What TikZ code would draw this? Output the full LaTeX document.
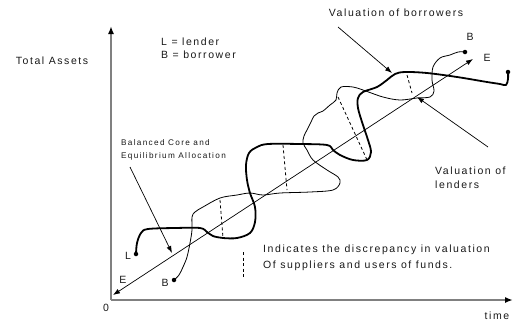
\documentclass[tikz,border=0pt]{standalone}
\usepackage{fontspec}
\setmainfont{Liberation Sans}[LetterSpace=15]
\usetikzlibrary{positioning,arrows.meta}
\definecolor{AxisGray}{RGB}{128,128,128}
\definecolor{Ink}{RGB}{25,25,25}

\begin{document}
\begin{tikzpicture}[x=1pt,y=-1pt,
    lbl/.style={inner sep=0pt,text=Ink,font=\fontsize{10.5}{16}\selectfont},
    note/.style={lbl,align=left,anchor=west},
    corenote/.style={inner sep=0pt,text=Ink,align=left,anchor=west,font=\fontsize{8.2}{13}\selectfont\addfontfeature{LetterSpace=16}},
    axis/.style={AxisGray,line width=1.8pt,-{Latex[black,length=8pt,width=6pt]}},
    diag/.style={line width=0.7pt,{Latex[length=7pt,width=5pt]}-{Latex[length=7pt,width=5pt]}},
    pointer/.style={line width=0.7pt,-{Latex[length=7pt,width=5pt]}},
    lender/.style={line width=1.8pt,line join=round,line cap=round},
    borrower/.style={line width=0.8pt,line join=round,line cap=round},
    gap/.style={line width=0.8pt,dash pattern=on 3pt off 2.5pt},
    dot/.style={circle,fill,inner sep=0pt,minimum size=4.5pt}
]
\useasboundingbox (0,0) rectangle (514,322);

% axes
\coordinate (O) at (111,300);
\coordinate (ytop) at (111,26);
\coordinate (xend) at (513,300);
\draw[axis] (O) -- (ytop);
\draw[axis] (O) -- (xend);
\node[lbl] (zero) at (106,308) {0};
\node[lbl] (time) at (497,316) {time};
\node[lbl] (assets) at (52,61) {Total Assets};

% legend
\node[note] (key) at (161,42) {L = lender};
\node[note,below=5pt of key.south west,anchor=north west] (key2) {B = borrower};

% equilibrium diagonal
\coordinate (Elow) at (113,295);
\coordinate (Ehigh) at (473,59);
\draw[diag] (Elow) -- (Ehigh);
\node[lbl] (e-low) at (123,280) {E};
\node[lbl] (e-high) at (487,58) {E};

% lender path (thick)
\node[dot] (Ldot) at (136,254) {};
\node[dot] (Lend) at (508,72) {};
\node[lbl] (l-lab) at (128,256) {L};
\draw[lender] plot[smooth,tension=0.55] coordinates {
    (136,254) (137,243) (141,233) (148,229) (175,228) (200,228) (207,232)
    (213,236) (223,238) (237,238) (250,233) (255,222) (255,207) (250,193)
    (247,180) (246,165) (249,153) (257,147) (268,144) (300,144) (327,145)
    (333,150) (340,155) (353,160) (367,160) (371,152) (368,140) (362,122)
    (358,108) (358,98) (363,92) (377,87) (387,80) (395,74) (405,72)
    (427,73) (457,77) (487,82) (500,84) (506,85) (508,79) (508,72)};

% borrower path (thin)
\node[dot] (Bdot) at (174,280) {};
\node[dot] (Bend) at (465,52) {};
\node[lbl] (b-low) at (165,283) {B};
\node[lbl] (b-high) at (470,37) {B};
\draw[borrower] plot[smooth,tension=0.55] coordinates {
    (174,280) (179,275) (183,267) (187,257) (190,243) (192,230) (192,217)
    (195,212) (203,207) (220,198) (237,195) (250,193) (263,195) (280,193)
    (310,192) (333,190) (340,183) (338,177) (327,170) (313,160) (307,150)
    (303,143) (304,136) (307,130) (311,122) (314,116) (318,113) (323,111)
    (330,105) (336,100) (337,93) (341,87) (353,87) (363,90) (383,97)
    (400,100) (417,98) (430,97) (434,91) (432,80) (433,67) (440,58)
    (450,55) (458,52) (465,52)};

% discrepancy gaps
\draw[gap] (220,200) -- (223,238);
\draw[gap] (283,145) -- (287,190);
\draw[gap] (338,97) -- (368,162);
\draw[gap] (407,75) -- (412,93);

% annotations
\node[lbl] (valb) at (396,13) {Valuation of borrowers};
\coordinate (valb-tail) at (338,27);
\coordinate (valb-tip) at (392,73);
\draw[pointer] (valb-tail) -- (valb-tip);

\node[note,align=left] (vall) at (435,178) {Valuation of\\[-2pt]lenders};
\coordinate (vall-tail) at (488,147);
\coordinate (vall-tip) at (417,97);
\draw[pointer] (vall-tail) -- (vall-tip);

\node[corenote] (core) at (121,150) {Balanced Core and\\Equilibrium Allocation};
\coordinate (core-tail) at (130,167);
\coordinate (core-tip) at (172,253);
\draw[pointer] (core-tail) -- (core-tip);

\draw[gap] (243,252) -- (243,277);
\node[note] (disc) at (263,258) {Indicates the discrepancy in valuation\\Of suppliers and users of funds.};

\end{tikzpicture}
\end{document}
